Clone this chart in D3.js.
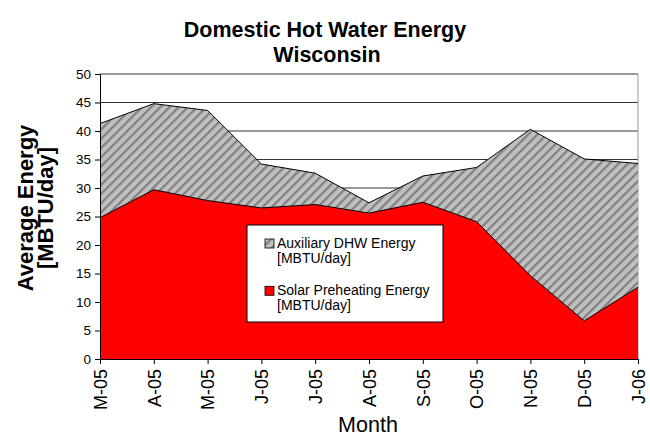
<!DOCTYPE html>
<html>
<head>
<meta charset="utf-8">
<script src="https://d3js.org/d3.v7.min.js"></script>
<style>
  body { margin: 0; background: #fff; }
  svg { display: block; font-family: "Liberation Sans", Arial, sans-serif; }
</style>
</head>
<body>
<svg id="chart" width="650" height="438"></svg>
<script>
// Data
const months = ['M-05', 'A-05', 'M-05', 'J-05', 'J-05', 'A-05', 'S-05', 'O-05', 'N-05', 'D-05', 'J-06'];
const solarEnergy = [24.8, 29.7, 27.8, 26.5, 27.1, 25.6, 27.5, 24.1, 14.6, 6.7, 12.6];
const auxEnergy = [16.5, 15.1, 15.8, 7.7, 5.5, 1.8, 4.6, 9.5, 25.7, 28.4, 21.7];
const yTicks = [0, 5, 10, 15, 20, 25, 30, 35, 40, 45, 50];

const svg = d3.select('#chart');
const margin = { left: 100, right: 12, top: 74, bottom: 79 };
const width = 650 - margin.left - margin.right;
const height = 438 - margin.top - margin.bottom;

const x = d3.scalePoint().domain(d3.range(months.length)).range([0, width]);
const y = d3.scaleLinear().domain([0, 50]).range([height, 0]);

// Hatch pattern for auxiliary energy
const defs = svg.append('defs');
const pat = defs.append('pattern')
  .attr('id', 'hatch')
  .attr('patternUnits', 'userSpaceOnUse')
  .attr('width', 6.5)
  .attr('height', 6.5)
  .attr('patternTransform', 'rotate(45)');
pat.append('rect').attr('width', 6.5).attr('height', 6.5).attr('fill', '#c0c0c0');
pat.append('rect').attr('x', 0).attr('width', 2.2).attr('height', 6.5).attr('fill', '#808080');

const g = svg.append('g').attr('transform', `translate(${margin.left},${margin.top})`);

// Gridlines
g.append('g')
  .selectAll('line')
  .data(yTicks.filter(d => d > 0))
  .enter()
  .append('line')
  .attr('x1', 0)
  .attr('x2', width)
  .attr('y1', d => y(d))
  .attr('y2', d => y(d))
  .attr('stroke', '#333')
  .attr('stroke-width', 1);

// Right border
g.append('line')
  .attr('x1', width).attr('x2', width)
  .attr('y1', 0).attr('y2', height)
  .attr('stroke', '#999');

// Stacked areas
const totals = solarEnergy.map((s, i) => s + auxEnergy[i]);

const auxArea = d3.area()
  .x((d, i) => x(i))
  .y0((d, i) => y(solarEnergy[i]))
  .y1(d => y(d));

const solarArea = d3.area()
  .x((d, i) => x(i))
  .y0(y(0))
  .y1(d => y(d));

const topLine = d3.line().x((d, i) => x(i)).y(d => y(d));

g.append('path')
  .datum(totals)
  .attr('d', auxArea)
  .attr('fill', 'url(#hatch)');

g.append('path')
  .datum(solarEnergy)
  .attr('d', solarArea)
  .attr('fill', '#ff0000');

g.append('path')
  .datum(totals)
  .attr('d', topLine)
  .attr('fill', 'none')
  .attr('stroke', '#000')
  .attr('stroke-width', 1);

g.append('path')
  .datum(solarEnergy)
  .attr('d', topLine)
  .attr('fill', 'none')
  .attr('stroke', '#000')
  .attr('stroke-width', 1);

// Axes
const yAxis = g.append('g')
  .call(d3.axisLeft(y).tickValues(yTicks).tickSize(5).tickPadding(4));
yAxis.select('.domain').attr('stroke', '#000');
yAxis.selectAll('.tick line').attr('stroke', '#000');
yAxis.selectAll('text').attr('font-size', 13.5).attr('fill', '#000').attr('font-family', '"Liberation Sans", Arial');

const xAxis = g.append('g')
  .attr('transform', `translate(0,${height})`)
  .call(d3.axisBottom(x).tickFormat(i => months[i]).tickSize(5).tickSizeOuter(0));
xAxis.select('.domain').attr('stroke', '#000');
xAxis.selectAll('.tick line').attr('stroke', '#000');
xAxis.selectAll('text')
  .attr('font-size', 18)
  .attr('font-family', '"Liberation Sans", Arial')
  .attr('fill', '#000')
  .attr('transform', 'rotate(-90)')
  .attr('text-anchor', 'end')
  .attr('x', -10)
  .attr('y', 0)
  .attr('dy', '0.35em');

// Titles
svg.append('text')
  .attr('x', 325).attr('y', 37)
  .attr('text-anchor', 'middle')
  .attr('font-size', 21.5).attr('font-weight', 'bold')
  .text('Domestic Hot Water Energy');
svg.append('text')
  .attr('x', 327).attr('y', 62)
  .attr('text-anchor', 'middle')
  .attr('font-size', 21.5).attr('font-weight', 'bold')
  .text('Wisconsin');

svg.append('text')
  .attr('x', 368).attr('y', 432)
  .attr('text-anchor', 'middle')
  .attr('font-size', 21.5)
  .text('Month');

const yLabel = svg.append('g').attr('transform', 'translate(0,208) rotate(-90)');
yLabel.append('text')
  .attr('x', 0).attr('y', 33)
  .attr('text-anchor', 'middle')
  .attr('font-size', 22).attr('font-weight', 'bold')
  .text('Average Energy');
yLabel.append('text')
  .attr('x', 0).attr('y', 53)
  .attr('text-anchor', 'middle')
  .attr('font-size', 22).attr('font-weight', 'bold')
  .text('[MBTU/day]');

// Legend
const legend = svg.append('g').attr('transform', 'translate(247,225)');
legend.append('rect')
  .attr('width', 196).attr('height', 97)
  .attr('fill', '#fff').attr('stroke', '#000').attr('stroke-width', 1);

const legendItems = [
  { fill: 'url(#hatch)', lines: ['Auxiliary DHW Energy', '[MBTU/day]'] },
  { fill: '#ff0000', lines: ['Solar Preheating Energy', '[MBTU/day]'] }
];
legendItems.forEach((item, i) => {
  const row = legend.append('g').attr('transform', `translate(0,${i * 47.3})`);
  row.append('rect')
    .attr('x', 18).attr('y', 14)
    .attr('width', 9).attr('height', 9)
    .attr('fill', item.fill).attr('stroke', '#000').attr('stroke-width', 0.8);
  item.lines.forEach((t, j) => {
    row.append('text')
      .attr('x', 30).attr('y', 22.7 + j * 15.5)
      .attr('font-size', 14)
      .text(t);
  });
});
</script>
</body>
</html>
